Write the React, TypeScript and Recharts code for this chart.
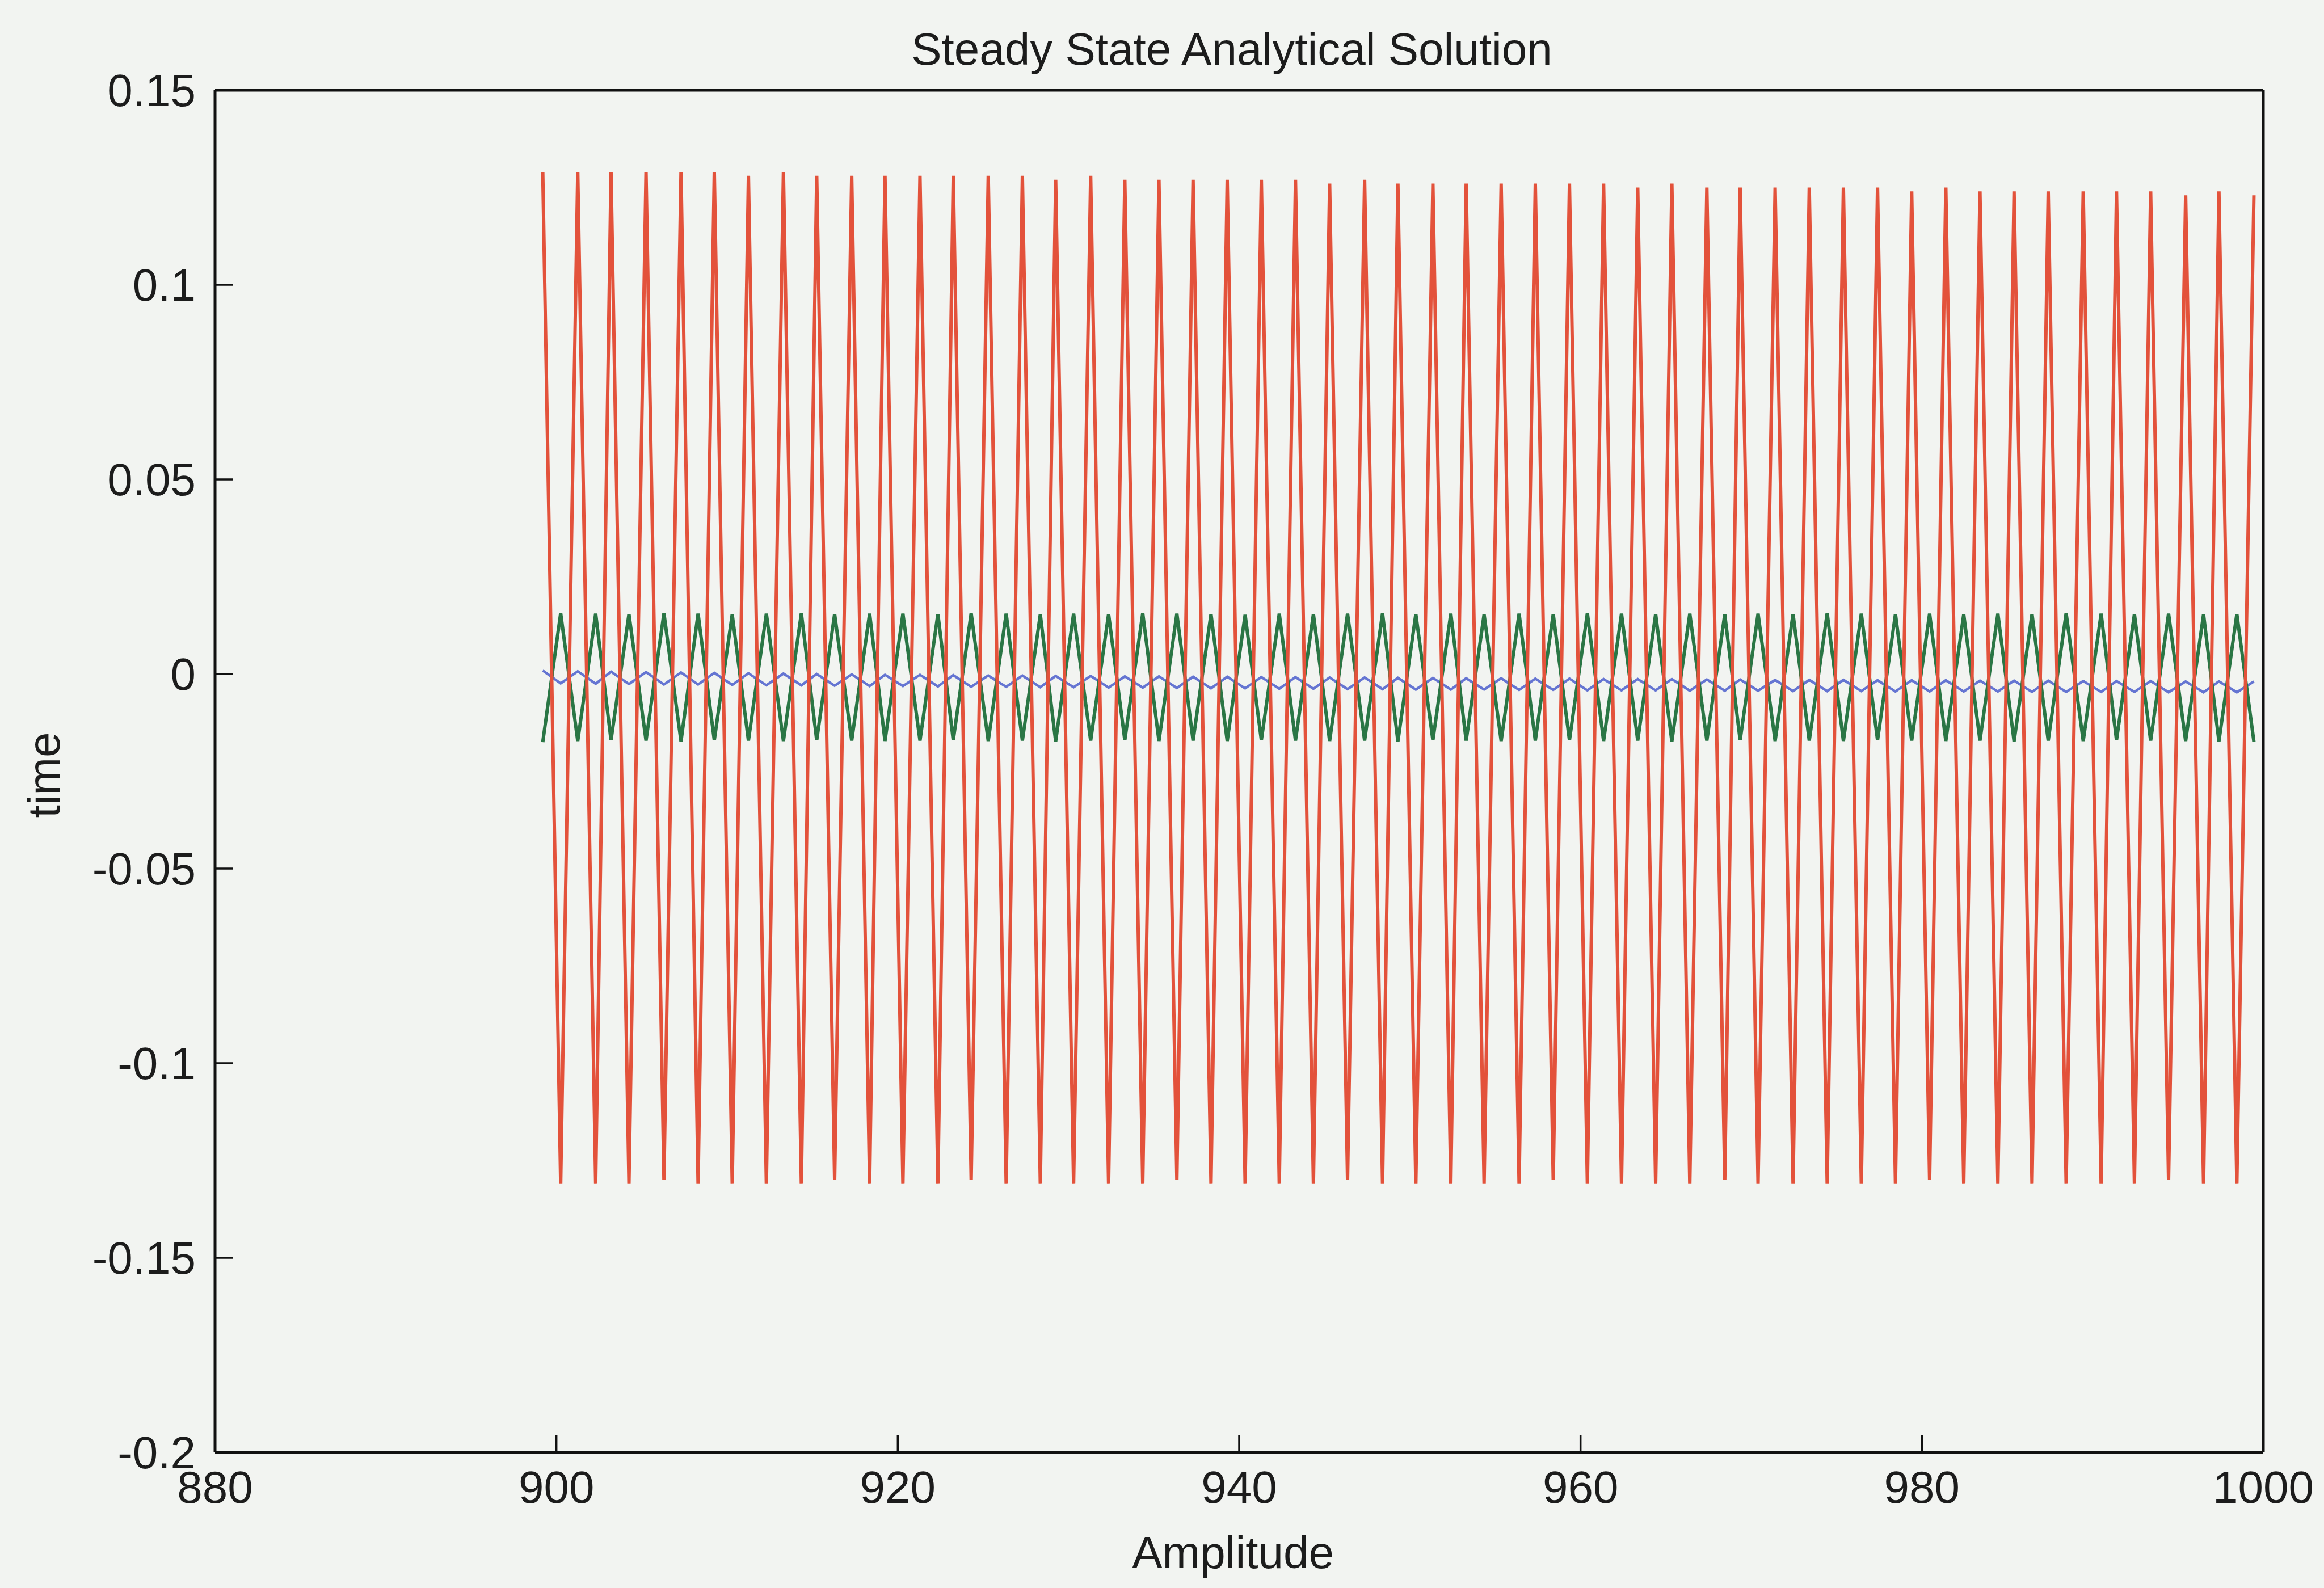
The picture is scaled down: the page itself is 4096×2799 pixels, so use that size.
import React from "react";
import { LineChart, Line, XAxis, YAxis } from "recharts";

const W = 4096;
const H = 2799;
const BG = "#f2f4f1";
const INK = "#1c1c1c";
const FONT = "'Liberation Sans', Arial, Helvetica, sans-serif";

const xTicks = [880, 900, 920, 940, 960, 980, 1000];
const yTicks = [-0.2, -0.15, -0.1, -0.05, 0, 0.05, 0.1, 0.15];

// sample times where the red trace peaks (top) and bottoms out
const topTime = [
  899.2, 901.25, 903.2, 905.25, 907.3, 909.25, 911.25, 913.3, 915.25, 917.3,
  919.25, 921.3, 923.25, 925.3, 927.3, 929.25, 931.3, 933.3, 935.3, 937.3,
  939.3, 941.3, 943.3, 945.3, 947.35, 949.3, 951.35, 953.3, 955.35, 957.35,
  959.35, 961.35, 963.35, 965.35, 967.4, 969.35, 971.4, 973.4, 975.4, 977.4,
  979.4, 981.4, 983.4, 985.4, 987.4, 989.45, 991.4, 993.4, 995.45, 997.4,
  999.45,
];
const bottomTime = [
  900.25, 902.3, 904.25, 906.3, 908.3, 910.3, 912.3, 914.35, 916.3, 918.35,
  920.3, 922.35, 924.3, 926.35, 928.35, 930.3, 932.35, 934.35, 936.35, 938.35,
  940.35, 942.35, 944.35, 946.35, 948.4, 950.35, 952.4, 954.35, 956.4, 958.4,
  960.4, 962.4, 964.4, 966.4, 968.45, 970.4, 972.45, 974.45, 976.45, 978.45,
  980.45, 982.45, 984.45, 986.45, 988.45, 990.5, 992.45, 994.45, 996.5, 998.45,
];

const redTop = [
  0.129, 0.129, 0.129, 0.129, 0.129, 0.129, 0.128, 0.129, 0.128, 0.128,
  0.128, 0.128, 0.128, 0.128, 0.128, 0.127, 0.128, 0.127, 0.127, 0.127,
  0.127, 0.127, 0.127, 0.126, 0.127, 0.126, 0.126, 0.126, 0.126, 0.126,
  0.126, 0.126, 0.125, 0.126, 0.125, 0.125, 0.125, 0.125, 0.125, 0.125,
  0.124, 0.125, 0.124, 0.124, 0.124, 0.124, 0.124, 0.124, 0.123, 0.124,
  0.123,
];
const redBottom = [
  -0.131, -0.131, -0.131, -0.13, -0.131, -0.131, -0.131, -0.131, -0.13, -0.131,
  -0.131, -0.131, -0.13, -0.131, -0.131, -0.131, -0.131, -0.131, -0.13, -0.131,
  -0.131, -0.131, -0.131, -0.13, -0.131, -0.131, -0.131, -0.131, -0.131, -0.13,
  -0.131, -0.131, -0.131, -0.131, -0.13, -0.131, -0.131, -0.131, -0.131, -0.131,
  -0.13, -0.131, -0.131, -0.131, -0.131, -0.131, -0.131, -0.13, -0.131, -0.131,
];

const greenTop = [
  -0.0175, -0.0172, -0.017, -0.0171, -0.0173, -0.017, -0.0171, -0.0172, -0.017, -0.0171,
  -0.0172, -0.0171, -0.017, -0.0172, -0.0171, -0.0173, -0.0171, -0.017, -0.0172, -0.0171,
  -0.0172, -0.017, -0.0171, -0.0172, -0.0171, -0.0173, -0.017, -0.0171, -0.0172, -0.0171,
  -0.017, -0.0172, -0.0171, -0.0173, -0.0171, -0.017, -0.0172, -0.0171, -0.0172, -0.017,
  -0.0171, -0.0172, -0.0171, -0.0173, -0.0171, -0.0172, -0.017, -0.0171, -0.0172, -0.0173,
  -0.0174,
];
const greenBottom = [
  0.0156, 0.0155, 0.0154, 0.0156, 0.0155, 0.0153, 0.0155, 0.0156, 0.0154, 0.0155,
  0.0155, 0.0154, 0.0156, 0.0155, 0.0153, 0.0155, 0.0154, 0.0156, 0.0155, 0.0154,
  0.0152, 0.0155, 0.0154, 0.0155, 0.0156, 0.0154, 0.0155, 0.0153, 0.0155, 0.0154,
  0.0156, 0.0155, 0.0154, 0.0155, 0.0153, 0.0155, 0.0154, 0.0156, 0.0155, 0.0154,
  0.0155, 0.0153, 0.0155, 0.0154, 0.0156, 0.0155, 0.0154, 0.0155, 0.0153, 0.0154,
];

const blueTop = [
  0.0009, 0.0007, 0.0006, 0.0005, 0.0004, 0.0003, 0.0002, 0.0001, 0.0, -0.0001,
  -0.0002, -0.0002, -0.0003, -0.0004, -0.0004, -0.0005, -0.0005, -0.0006, -0.0006, -0.0007,
  -0.0007, -0.0008, -0.0008, -0.0009, -0.0009, -0.001, -0.001, -0.0011, -0.0011, -0.0012,
  -0.0012, -0.0013, -0.0013, -0.0013, -0.0014, -0.0014, -0.0015, -0.0015, -0.0015, -0.0016,
  -0.0016, -0.0016, -0.0017, -0.0017, -0.0017, -0.0018, -0.0018, -0.0018, -0.0019, -0.0019,
  -0.0019,
];
const blueBottom = [
  -0.0024, -0.0025, -0.0026, -0.0027, -0.0027, -0.0028, -0.0029, -0.0029, -0.003, -0.0031,
  -0.0031, -0.0032, -0.0033, -0.0033, -0.0034, -0.0034, -0.0035, -0.0035, -0.0036, -0.0037,
  -0.0037, -0.0038, -0.0038, -0.0039, -0.0039, -0.004, -0.004, -0.004, -0.0041, -0.0041,
  -0.0042, -0.0042, -0.0042, -0.0043, -0.0043, -0.0043, -0.0044, -0.0044, -0.0044, -0.0045,
  -0.0045, -0.0045, -0.0045, -0.0046, -0.0046, -0.0046, -0.0046, -0.0047, -0.0047, -0.0047,
];

// interleave peaks and troughs into one table
const rows: { t: number; red: number; green: number; blue: number }[] = [];
topTime.forEach((t, i) => {
  rows.push({ t, red: redTop[i], green: greenTop[i], blue: blueTop[i] });
  if (i < bottomTime.length) {
    rows.push({ t: bottomTime[i], red: redBottom[i], green: greenBottom[i], blue: blueBottom[i] });
  }
});

const axisLine = { stroke: "#111", strokeWidth: 5 };
const tickLine = { stroke: "#111", strokeWidth: 3.5 };
const tickStyle = { fill: INK, fontSize: 80, fontFamily: FONT };

const textBase: React.CSSProperties = {
  position: "absolute",
  fontFamily: FONT,
  fontSize: 80,
  lineHeight: 1,
  color: INK,
  whiteSpace: "nowrap",
  transform: "translate(-50%, -50%)",
};

export default function App() {
  return (
    <div style={{ position: "absolute", left: 0, top: 0, width: W, height: H, background: BG, overflow: "hidden" }}>
      <LineChart width={W} height={H} data={rows} margin={{ top: 158, right: 106, bottom: 38, left: 79 }}>
        <XAxis
          dataKey="t"
          type="number"
          domain={[880, 1000]}
          ticks={xTicks}
          interval={0}
          height={201}
          axisLine={axisLine}
          tickLine={tickLine}
          tickSize={-31}
          tickMargin={63}
          tick={tickStyle}
        />
        <XAxis
          xAxisId="top"
          orientation="top"
          type="number"
          domain={[880, 1000]}
          ticks={xTicks}
          interval={0}
          height={1}
          axisLine={axisLine}
          tickLine={tickLine}
          tickSize={-31}
          tick={false}
        />
        <YAxis
          type="number"
          domain={[-0.2, 0.15]}
          ticks={yTicks}
          interval={0}
          width={300}
          axisLine={axisLine}
          tickLine={tickLine}
          tickSize={-31}
          tickMargin={65}
          tick={tickStyle}
        />
        <YAxis
          yAxisId="right"
          orientation="right"
          type="number"
          domain={[-0.2, 0.15]}
          ticks={yTicks}
          interval={0}
          width={1}
          axisLine={axisLine}
          tickLine={tickLine}
          tickSize={-31}
          tick={false}
        />
        <Line dataKey="blue" type="linear" stroke="#6575d2" strokeWidth={4.5} dot={false} isAnimationActive={false} />
        <Line dataKey="green" type="linear" stroke="#2a7645" strokeWidth={6} dot={false} isAnimationActive={false} />
        <Line dataKey="red" type="linear" stroke="#e3523b" strokeWidth={6} dot={false} isAnimationActive={false} />
      </LineChart>
      <div style={{ ...textBase, left: 2171, top: 87 }}>Steady State Analytical Solution</div>
      <div style={{ ...textBase, left: 2173, top: 2737 }}>Amplitude</div>
      <div style={{ ...textBase, left: 78, top: 1366, transform: "translate(-50%, -50%) rotate(-90deg)" }}>time</div>
    </div>
  );
}
